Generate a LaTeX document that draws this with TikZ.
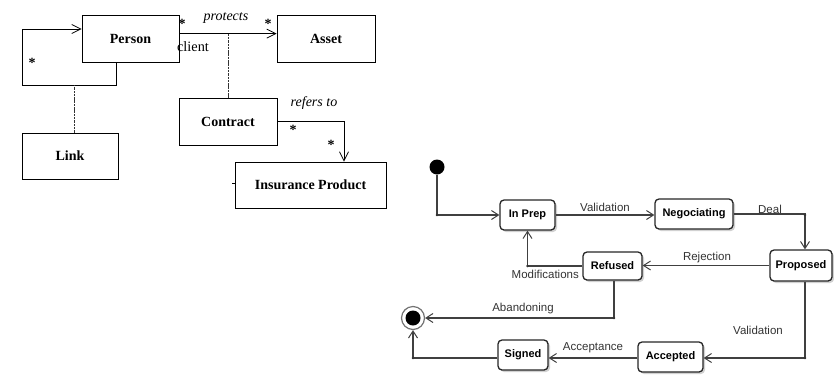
\documentclass[tikz,border=0pt]{standalone}
\usepackage{fontspec}
\setmainfont{Liberation Serif}
\newfontfamily\statefont{Liberation Sans}
\usetikzlibrary{arrows.meta,shadows}

\begin{document}
\begin{tikzpicture}[x=1pt,y=-1pt,
  classbox/.style={draw,line width=0.8pt,minimum height=47pt,inner sep=0pt,
    font=\fontsize{14}{16}\selectfont\bfseries},
  classline/.style={line width=0.8pt},
  classarrow/.style={line width=0.8pt,-{Straight Barb[length=9pt,width=9pt,line width=0.8pt]}},
  assocdash/.style={line width=0.9pt,draw=black!80,dash pattern=on 2.5pt off 0.8pt},
  rolelab/.style={inner sep=0pt,font=\fontsize{14.3}{16}\selectfont},
  mult/.style={inner sep=0pt,font=\fontsize{14}{15}\selectfont\bfseries},
  statebox/.style={draw=black!85,line width=1.3pt,rounded corners=4pt,fill=white,
    minimum height=30pt,inner sep=0pt,font=\statefont\fontsize{11}{13}\selectfont\bfseries,
    drop shadow={shadow xshift=2pt,shadow yshift=-2pt,fill=black!30,opacity=0.6}},
  trans/.style={draw=black!75,line width=1.1pt,-{Straight Barb[length=7pt,width=9pt,line width=1pt]}},
  translab/.style={inner sep=0pt,text=black!80,font=\statefont\fontsize{11.5}{13}\selectfont},
  jdot/.style={circle,fill=black!80,inner sep=0pt,minimum size=2.6pt}
]
\useasboundingbox (0,0) rectangle (834,381);

% ---------------- class diagram ----------------
\node[classbox,minimum width=97pt] (person) at (130.5,38.5) {Person};
\node[classbox,minimum width=98pt] (asset) at (326,38.5) {Asset};
\node[classbox,minimum width=96pt,minimum height=46pt] (link) at (70,156) {Link};
\node[classbox,minimum width=98pt] (contract) at (228,121.5) {Contract};
\node[classbox,minimum width=151pt,minimum height=46pt] (insurance) at (310.5,185) {Insurance Product};

% protects association with its association class
\coordinate (pa) at ([yshift=-19pt]person.north east);
\draw[classarrow] (pa) -- (pa -| asset.west);
\draw[assocdash] (contract.north |- pa) -- (contract.north);

% reflexive association on Person, with Link as association class
\coordinate (loopA) at (116,85);
\coordinate (loopB) at (22,85);
\coordinate (linkjoin) at (74,85);
\draw[classarrow] (loopA |- person.south) -- (loopA) -- (loopB)
  |- ([yshift=9.5pt]person.west);
\draw[assocdash] (linkjoin |- link.north) -- (linkjoin);

% refers to
\coordinate (rt) at (344,121.5);
\draw[classarrow] (contract.east) -- (rt) -- (rt |- insurance.north);
\draw[classline] ([yshift=2pt]insurance.west) -- ++(-2.5,0);

% labels and multiplicities
\node[rolelab,font=\fontsize{14}{16}\selectfont\itshape] (lprotects) at (226,18) {protects};
\node[rolelab] (lclient) at (193,47) {client};
\node[rolelab,font=\fontsize{14}{16}\selectfont\itshape] (lrefers) at (314,103) {refers to};
\node[mult] (m1) at (182,24) {*};
\node[mult] (m2) at (268,24) {*};
\node[mult] (m3) at (32,63) {*};
\node[mult] (m4) at (293,130) {*};
\node[mult] (m5) at (331,145) {*};

% ---------------- state diagram ----------------
\node[circle,fill=black,inner sep=0pt,minimum size=15pt] (init) at (437,167) {};
\node[circle,draw=black!55,line width=1.2pt,fill=white,inner sep=0pt,minimum size=23pt] (final) at (413,318) {};
\node[circle,fill=black,inner sep=0pt,minimum size=15pt] (finalcore) at (final) {};

\node[statebox,minimum width=55pt] (inprep) at (527.5,215) {In Prep};
\node[statebox,minimum width=78pt] (nego) at (694,214) {Negociating};
\node[statebox,minimum width=62pt,minimum height=31pt] (proposed) at (801,265.5) {Proposed};
\node[statebox,minimum width=59pt,minimum height=28pt] (refused) at (612.5,266) {Refused};
\node[statebox,minimum width=65pt] (accepted) at (670.5,357) {Accepted};
\node[statebox,minimum width=50pt] (signed) at (523,355) {Signed};

% transitions
\draw[trans] (init) |- (inprep.west);
\draw[trans] (inprep.east) -- (inprep.east -| nego.west);
\draw[trans] (nego.east) -| ([xshift=4pt]proposed.north);
\draw[trans] (proposed.west) -- (proposed.west -| refused.east);
\draw[trans] (refused.west) -| (inprep.south);
\draw[trans] ([xshift=1.5pt]refused.south) |- (final.east);
\draw[trans] ([xshift=4pt]proposed.south) |- ([yshift=-1pt]accepted.east);
\draw[trans] ([yshift=-1pt]accepted.west) -- ([yshift=-1pt]accepted.west -| signed.east);
\draw[trans] ([yshift=-3pt]signed.west) -| (final.south);

% junction points
\node[jdot] (j1) at (437,215) {};
\node[jdot] (j2) at (805,215) {};
\node[jdot] (j3) at (527.5,266) {};
\node[jdot] (j4) at (614,318) {};
\node[jdot] (j5) at (805,358) {};
\node[jdot] (j6) at (413,358) {};

% transition labels
\node[translab] (tvalid) at (605,207) {Validation};
\node[translab] (tdeal) at (770,209) {Deal};
\node[translab] (treject) at (707,258) {Rejection};
\node[translab,anchor=east] (tmodif) at (579,274) {Modifications};
\node[translab] (tabandon) at (523,309) {Abandoning};
\node[translab] (tvalid2) at (758,330) {Validation};
\node[translab] (taccept) at (593,348) {Acceptance};
\end{tikzpicture}
\end{document}
